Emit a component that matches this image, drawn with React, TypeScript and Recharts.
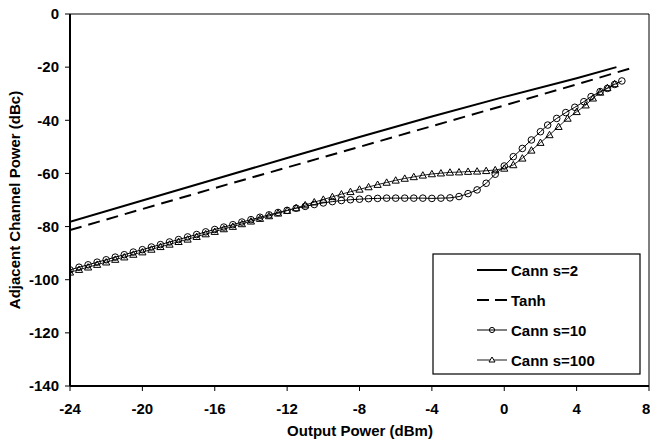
import React from "react";
import {
  LineChart,
  Line,
  XAxis,
  YAxis,
  ReferenceLine,
  Label,
} from "recharts";

// x ticks / y ticks
const xTicks = [-24, -20, -16, -12, -8, -4, 0, 4, 8];
const yTicks = [-140, -120, -100, -80, -60, -40, -20, 0];

// Cann s=2 (solid)
const cann2Pout = [-24, -20, -16, -12, -8, -4, 0, 4, 6.2];
const cann2Acp = [-78.2, -70.2, -62.2, -54.2, -46.3, -38.6, -31.2, -24.2, -20.0];

// Tanh (dashed)
const tanhPout = [-24, -16, -8, 0, 4, 7.2];
const tanhAcp = [-81.3, -65.5, -50.0, -34.4, -26.5, -20.0];

// Cann s=10 (circles)
const cann10Pout = [
  -24, -23.5, -23, -22.5, -22, -21.5, -21, -20.5, -20, -19.5, -19, -18.5, -18, -17.5,
  -17, -16.5, -16, -15.5, -15, -14.5, -14, -13.5, -13, -12.5, -12, -11.5, -11, -10.5,
  -10, -9.5, -9, -8.5, -8, -7.5, -7, -6.5, -6, -5.5, -5, -4.5, -4, -3.5, -3, -2.5, -2,
  -1.5, -1, -0.5, 0, 0.5, 1.0, 1.5, 2.0, 2.4, 2.9, 3.4, 3.9, 4.4, 4.8, 5.3, 5.7, 6.1, 6.5,
];
const cann10Acp = [
  -96.3, -95.3, -94.4, -93.4, -92.5, -91.5, -90.6, -89.6, -88.7, -87.7, -86.8, -85.8,
  -84.9, -83.9, -83.0, -82.0, -81.1, -80.2, -79.3, -78.3, -77.4, -76.5, -75.6, -74.7,
  -73.9, -73.1, -72.4, -71.7, -71.1, -70.6, -70.2, -69.9, -69.7, -69.5, -69.4, -69.3,
  -69.3, -69.3, -69.3, -69.3, -69.4, -69.3, -69.2, -68.7, -67.6, -66.2, -63.7, -60.3,
  -57.2, -53.7, -50.6, -47.4, -44.3, -41.8, -39.3, -37.1, -35.1, -33.0, -31.1, -29.2,
  -28.0, -26.5, -25.2,
];

// Cann s=100 (triangles)
const cann100Pout = [
  -24, -23.5, -23, -22.5, -22, -21.5, -21, -20.5, -20, -19.5, -19, -18.5, -18, -17.5,
  -17, -16.5, -16, -15.5, -15, -14.5, -14, -13.5, -13, -12.5, -12, -11.5, -11, -10.5,
  -10, -9.5, -9, -8.5, -8, -7.5, -7, -6.5, -6, -5.5, -5, -4.5, -4, -3.5, -3, -2.5, -2,
  -1.5, -1, -0.5, 0, 0.5, 1.0, 1.5, 2.0, 2.5, 3.0, 3.5, 4.0, 4.5, 4.9, 5.3, 5.7, 6.1,
];
const cann100Acp = [
  -97.2, -96.2, -95.3, -94.3, -93.4, -92.4, -91.5, -90.5, -89.6, -88.6, -87.6, -86.7,
  -85.7, -84.8, -83.8, -82.8, -81.9, -80.9, -80.0, -79.0, -78.0, -77.0, -76.0, -75.0,
  -74.0, -73.0, -71.9, -70.8, -69.8, -68.8, -67.8, -66.9, -66.0, -65.1, -64.2, -63.4,
  -62.6, -61.9, -61.3, -60.7, -60.2, -59.9, -59.6, -59.5, -59.3, -59.2, -59.0, -58.7,
  -58.1, -56.8, -54.3, -51.3, -48.4, -45.5, -42.4, -39.3, -36.8, -34.3, -31.7, -29.5,
  -27.8, -26.3,
];

const toRows = (xs: number[], ys: number[]) => xs.map((x, i) => ({ x, y: ys[i] }));

const FONT = "'Liberation Sans', Arial, sans-serif";

const Circle = (props: any) => {
  const { cx, cy, index } = props;
  if (cx == null || cy == null) return <g key={index} />;
  return <circle key={index} cx={cx} cy={cy} r={3.3} fill="none" stroke="#000" strokeWidth={1} />;
};

const Triangle = (props: any) => {
  const { cx, cy, index } = props;
  if (cx == null || cy == null) return <g key={index} />;
  const pts = `${cx},${cy - 3.6} ${cx + 3.6},${cy + 2.8} ${cx - 3.6},${cy + 2.8}`;
  return <polygon key={index} points={pts} fill="none" stroke="#000" strokeWidth={1} />;
};

function ChartLegend() {
  const rows = [
    { name: "Cann s=2", stroke: "#000", width: 2, dash: undefined, mark: "none" },
    { name: "Tanh", stroke: "#000", width: 2, dash: "12 6", mark: "none" },
    { name: "Cann s=10", stroke: "#000", width: 1, dash: undefined, mark: "circle" },
    { name: "Cann s=100", stroke: "#666", width: 1.5, dash: undefined, mark: "tri" },
  ];
  return (
    <svg
      width={209}
      height={122}
      style={{ position: "absolute", left: 432, top: 253 }}
    >
      <rect x={1} y={1} width={207} height={120} fill="#fff" stroke="#000" strokeWidth={1.2} />
      {rows.map((r, i) => {
        const cy = 17 + i * 30;
        return (
          <g key={r.name}>
            <line x1={45} x2={75} y1={cy} y2={cy} stroke={r.stroke} strokeWidth={r.width} strokeDasharray={r.dash} />
            {r.mark === "circle" && <circle cx={60} cy={cy} r={2.6} fill="none" stroke="#000" />}
            {r.mark === "tri" && (
              <polygon points={`60,${cy - 3} 63,${cy + 2} 57,${cy + 2}`} fill="#fff" stroke="#000" />
            )}
            <text x={79} y={cy} dominantBaseline="central" fontFamily={FONT} fontWeight="bold" fontSize={15} fill="#000">
              {r.name}
            </text>
          </g>
        );
      })}
    </svg>
  );
}

export default function App() {
  const tick = { fill: "#000", fontSize: 15, fontWeight: "bold", fontFamily: FONT };
  return (
    <div style={{ position: "absolute", left: 0, top: 0, width: 650, height: 441, background: "#fff" }}>
      <LineChart width={650} height={441} margin={{ top: 14, right: 1, left: 0, bottom: 0 }}>
        <XAxis
          type="number"
          dataKey="x"
          domain={[-24, 8]}
          ticks={xTicks}
          allowDataOverflow
          height={55}
          tick={tick}
          tickSize={5}
          tickMargin={12}
          axisLine={{ stroke: "#000", strokeWidth: 2 }}
          tickLine={{ stroke: "#000", strokeWidth: 1 }}
        >
          <Label
            content={() => (
              <text x={360} y={430} textAnchor="middle" dominantBaseline="central" fontFamily={FONT} fontWeight="bold" fontSize={15} fill="#000">
                Output Power (dBm)
              </text>
            )}
          />
        </XAxis>
        <YAxis
          type="number"
          domain={[-140, 0]}
          ticks={yTicks}
          width={70}
          tick={tick}
          tickSize={5}
          tickMargin={6}
          axisLine={{ stroke: "#000", strokeWidth: 2 }}
          tickLine={{ stroke: "#000", strokeWidth: 1 }}
        >
          <Label
            content={() => (
              <text x={14} y={200} transform="rotate(-90,14,200)" textAnchor="middle" dominantBaseline="central" fontFamily={FONT} fontWeight="bold" fontSize={15} fill="#000">
                Adjacent Channel Power (dBc)
              </text>
            )}
          />
        </YAxis>
        <ReferenceLine y={0} stroke="#808080" strokeWidth={2} />
        <ReferenceLine x={8} stroke="#000" strokeWidth={1} />
        <Line
          data={toRows(cann2Pout, cann2Acp)}
          dataKey="y"
          name="Cann s=2"
          stroke="#000"
          strokeWidth={2}
          dot={false}
          isAnimationActive={false}
        />
        <Line
          data={toRows(tanhPout, tanhAcp)}
          dataKey="y"
          name="Tanh"
          stroke="#000"
          strokeWidth={2}
          strokeDasharray="12 7"
          dot={false}
          isAnimationActive={false}
        />
        <Line
          data={toRows(cann10Pout, cann10Acp)}
          dataKey="y"
          name="Cann s=10"
          stroke="#000"
          strokeWidth={1}
          dot={Circle}
          isAnimationActive={false}
        />
        <Line
          data={toRows(cann100Pout, cann100Acp)}
          dataKey="y"
          name="Cann s=100"
          stroke="#222"
          strokeWidth={1}
          dot={Triangle}
          isAnimationActive={false}
        />
      </LineChart>
      <ChartLegend />
    </div>
  );
}
